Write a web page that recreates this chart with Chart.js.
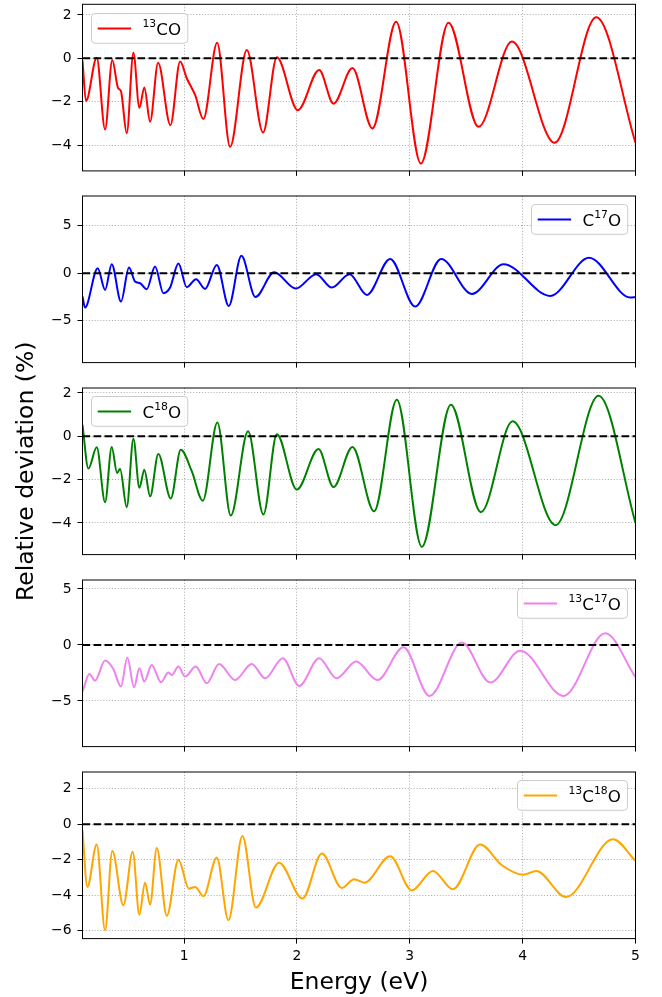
<!DOCTYPE html>
<html>
<head>
<meta charset="utf-8">
<script src="https://cdn.jsdelivr.net/npm/chart.js@4.4.0/dist/chart.umd.min.js"></script>
<style>
  html, body { margin: 0; padding: 0; background: #fff; }
  #fig { position: relative; width: 662px; height: 997px; }
  #fig canvas { position: absolute; left: 0; top: 0; }
</style>
</head>
<body>
<div id="fig"></div>
<script>
// ---- data ----
const xTicks = [1, 2, 3, 4, 5];
const xRange = [0.1, 5];

// 13CO
const co13Energy = [0.10, 0.131, 0.226, 0.300, 0.364, 0.415, 0.44, 0.492, 0.551, 0.604, 0.648, 0.699, 0.770, 0.879, 0.965, 1.024, 1.098, 1.171, 1.293, 1.408, 1.556, 1.700, 1.822, 2.008, 2.197, 2.324, 2.492, 2.669, 2.879, 3.098, 3.343, 3.609, 3.905, 4.283, 4.652, 5.0];
const co13Dev = [-0.1, -1.97, 0.03, -3.28, -0.08, -1.37, -1.5, -3.46, 0.26, -2.28, -1.34, -2.92, -0.2, -3.08, -0.15, -0.92, -1.69, -2.8, 0.72, -4.08, 0.38, -3.42, 0.05, -2.39, -0.54, -2.09, -0.45, -3.23, 1.69, -4.85, 1.64, -3.16, 0.77, -3.89, 1.89, -3.89];

// C17O
const c17oEnergy = [0.10, 0.122, 0.235, 0.300, 0.359, 0.441, 0.512, 0.566, 0.61, 0.669, 0.743, 0.817, 0.876, 0.950, 1.024, 1.106, 1.186, 1.290, 1.396, 1.508, 1.632, 1.798, 1.990, 2.170, 2.309, 2.466, 2.620, 2.826, 3.048, 3.278, 3.550, 3.831, 4.245, 4.588, 4.954, 5.0];
const c17oDev = [-2.45, -3.6, 0.52, -1.75, 0.94, -2.98, 0.59, -0.88, -1.05, -1.68, 0.7, -2.1, -1.51, 1.01, -1.47, -0.63, -1.65, 0.87, -3.43, 1.82, -2.49, 0.1, -1.61, -0.1, -1.51, -0.1, -2.28, 1.5, -3.5, 1.5, -2.17, 0.94, -2.38, 1.61, -2.55, -2.52];

// C18O
const c18oEnergy = [0.10, 0.152, 0.226, 0.300, 0.359, 0.406, 0.433, 0.492, 0.551, 0.604, 0.648, 0.699, 0.772, 0.882, 0.971, 1.068, 1.166, 1.295, 1.414, 1.567, 1.703, 1.822, 1.999, 2.191, 2.324, 2.492, 2.684, 2.885, 3.107, 3.364, 3.630, 3.911, 4.292, 4.673, 5.0];
const c18oDev = [0.53, -1.49, -0.51, -3.04, -0.49, -1.69, -1.51, -3.27, -0.11, -2.38, -1.54, -2.77, -0.82, -2.87, -0.62, -1.61, -2.97, 0.64, -3.66, 0.23, -3.61, 0.1, -2.46, -0.59, -2.34, -0.49, -3.46, 1.69, -5.1, 1.46, -3.5, 0.69, -4.1, 1.87, -4.0];

// 13C17O
const c13o17Energy = [0.10, 0.161, 0.211, 0.300, 0.373, 0.441, 0.497, 0.557, 0.604, 0.648, 0.713, 0.796, 0.861, 0.891, 0.950, 1.009, 1.104, 1.201, 1.310, 1.452, 1.600, 1.718, 1.875, 2.020, 2.197, 2.351, 2.525, 2.714, 2.944, 3.175, 3.462, 3.713, 3.979, 4.363, 4.732, 5.0];
const c13o17Dev = [-4.17, -2.59, -3.19, -1.4, -2.14, -3.72, -1.13, -3.78, -2.08, -3.27, -1.79, -3.33, -2.47, -2.68, -1.93, -2.83, -1.93, -3.42, -1.7, -3.13, -1.7, -2.98, -1.19, -3.66, -1.19, -2.98, -1.49, -3.13, -0.21, -4.55, 0.21, -3.36, -0.51, -4.55, 1.04, -2.89];

// 13C18O
const c13o18Energy = [0.10, 0.143, 0.226, 0.300, 0.364, 0.462, 0.545, 0.604, 0.654, 0.699, 0.758, 0.847, 0.950, 1.044, 1.098, 1.171, 1.290, 1.393, 1.517, 1.636, 1.842, 2.049, 2.221, 2.398, 2.507, 2.598, 2.826, 3.018, 3.205, 3.382, 3.624, 3.816, 4.003, 4.121, 4.384, 4.801, 5.0];
const c13o18Dev = [-0.34, -3.54, -1.15, -5.99, -1.51, -4.58, -1.56, -5.11, -3.3, -4.54, -1.34, -5.18, -2.0, -3.64, -3.54, -4.07, -1.88, -5.42, -0.66, -4.71, -2.17, -4.2, -1.66, -3.6, -3.11, -3.3, -1.81, -3.73, -2.64, -3.67, -1.15, -2.32, -2.85, -2.64, -4.11, -0.85, -2.07];

const ticksTwo = [-4, -2, 0, 2];
const ticksFive = [-5, 0, 5];
const ticksLast = [-6, -4, -2, 0, 2];

const panels = [
  { label: '^13CO',    color: 'red',    energy: co13Energy,   dev: co13Dev,   yRange: [-5.19, 2.49], yTicks: ticksTwo,  side: 'left' },
  { label: 'C^17O',    color: 'blue',   energy: c17oEnergy,   dev: c17oDev,   yRange: [-9.38, 8.1],  yTicks: ticksFive, side: 'right' },
  { label: 'C^18O',    color: 'green',  energy: c18oEnergy,   dev: c18oDev,   yRange: [-5.46, 2.23], yTicks: ticksTwo,  side: 'left' },
  { label: '^13C^17O', color: 'violet', energy: c13o17Energy, dev: c13o17Dev, yRange: [-9.08, 5.8],  yTicks: ticksFive, side: 'right' },
  { label: '^13C^18O', color: 'orange', energy: c13o18Energy, dev: c13o18Dev, yRange: [-6.46, 2.95], yTicks: ticksLast, side: 'right' },
];

// ---- layout ----
const FIG_W = 662, FIG_H = 997;
const AX_LEFT = 82.5, AX_RIGHT = 635.5;
const AX_TOPS = [4.3, 196, 388, 580, 772];
const AX_H = 166.6;
const FONT = '"DejaVu Sans", "Liberation Sans", sans-serif';
const LEG_SIZE = 16.7, SUP_SIZE = 10.8;

const minus = v => String(v).replace('-', '\u2212');

// spines on all four sides
const framePlugin = {
  id: 'frame',
  afterDatasetsDraw(chart) {
    const { ctx, chartArea: a } = chart;
    ctx.save();
    ctx.strokeStyle = '#000';
    ctx.lineWidth = 1;
    ctx.strokeRect(a.left, a.top, a.right - a.left, a.bottom - a.top);
    ctx.restore();
  }
};

// matplotlib-like legend box inside the axes, with superscripts
const isoLegend = {
  id: 'isoLegend',
  afterDraw(chart, args, opts) {
    const { ctx, chartArea: a } = chart;
    const parts = opts.text.split(/(\^\d+)/).filter(s => s).map(s =>
      s[0] === '^' ? { t: s.slice(1), sup: true } : { t: s, sup: false });
    ctx.save();
    let textW = 0;
    parts.forEach(p => {
      ctx.font = (p.sup ? SUP_SIZE : LEG_SIZE) + 'px ' + FONT;
      p.w = ctx.measureText(p.t).width;
      textW += p.w;
    });
    const boxW = 51 + textW + 6.7, boxH = 29.8;
    const x0 = Math.round(opts.side === 'left' ? a.left + 8.3 : a.right - 8.3 - boxW) + 0.5;
    const y0 = Math.round(a.top + 8.3) + 0.5;
    ctx.beginPath();
    ctx.roundRect(x0, y0, boxW, boxH, 3.5);
    ctx.fillStyle = 'rgba(255,255,255,0.8)';
    ctx.fill();
    ctx.strokeStyle = '#cccccc';
    ctx.lineWidth = 1;
    ctx.stroke();

    const cy = y0 + boxH / 2;
    ctx.beginPath();
    ctx.moveTo(x0 + 6.2, cy);
    ctx.lineTo(x0 + 39.6, cy);
    ctx.strokeStyle = opts.color;
    ctx.lineWidth = 2;
    ctx.stroke();

    let tx = x0 + 51;
    const base = cy + 6.1;
    ctx.fillStyle = '#000';
    ctx.textBaseline = 'alphabetic';
    ctx.textAlign = 'left';
    parts.forEach(p => {
      ctx.font = (p.sup ? SUP_SIZE : LEG_SIZE) + 'px ' + FONT;
      ctx.fillText(p.t, tx, p.sup ? base - 7.3 : base);
      tx += p.w;
    });
    ctx.restore();
  }
};

const fig = document.getElementById('fig');

panels.forEach((p, i) => {
  const canvas = document.createElement('canvas');
  canvas.width = FIG_W;
  canvas.height = FIG_H;
  fig.appendChild(canvas);

  const top = AX_TOPS[i];
  const bottom = top + AX_H;
  const isLast = i === panels.length - 1;
  const xRoom = isLast ? FIG_H - bottom : 10;

  const gridOpts = {
    color: '#b0b0b0',
    lineWidth: 1,
    tickLength: 5,
    tickColor: '#000',
    tickWidth: 1,
    tickBorderDash: [],
  };
  const tickFont = { family: FONT, size: 13.9 };

  new Chart(canvas, {
    type: 'line',
    data: {
      datasets: [
        {
          // zero reference line
          data: [{ x: xRange[0], y: 0 }, { x: xRange[1], y: 0 }],
          borderColor: '#000',
          borderWidth: 2,
          borderDash: [7.7, 3.3],
          pointRadius: 0,
          order: 0,
        },
        {
          label: p.label,
          data: p.energy.map((e, k) => ({ x: e, y: p.dev[k] })),
          borderColor: p.color,
          borderWidth: 2,
          pointRadius: 0,
          cubicInterpolationMode: 'monotone',
          order: 1,
        },
      ],
    },
    options: {
      responsive: false,
      animation: false,
      events: [],
      layout: {
        padding: { left: 0, right: FIG_W - AX_RIGHT, top: top, bottom: FIG_H - bottom - xRoom },
      },
      scales: {
        x: {
          type: 'linear',
          min: xRange[0],
          max: xRange[1],
          afterBuildTicks: axis => { axis.ticks = xTicks.map(v => ({ value: v })); },
          afterFit: axis => { axis.height = xRoom; axis.paddingLeft = 0; axis.paddingRight = 0; },
          grid: gridOpts,
          border: { display: false, dash: [1.1, 1.8] },
          ticks: {
            display: isLast,
            padding: 4,
            color: '#000',
            font: tickFont,
            maxRotation: 0,
            callback: v => minus(v),
          },
          title: {
            display: isLast,
            text: 'Energy (eV)',
            color: '#000',
            font: { family: FONT, size: 23.5, lineHeight: 1.2 },
            padding: { top: 0, bottom: 0 },
          },
        },
        y: {
          min: p.yRange[0],
          max: p.yRange[1],
          afterBuildTicks: axis => { axis.ticks = p.yTicks.map(v => ({ value: v })); },
          afterFit: axis => { axis.width = AX_LEFT; axis.paddingTop = 0; axis.paddingBottom = 0; },
          grid: gridOpts,
          border: { display: false, dash: [1.1, 1.8] },
          ticks: {
            padding: 6,
            color: '#000',
            font: tickFont,
            callback: v => minus(v),
          },
          title: {
            display: i === 2,
            text: 'Relative deviation (%)',
            color: '#000',
            font: { family: FONT, size: 23.5, lineHeight: 1.2 },
            padding: { top: 13, bottom: 0 },
          },
        },
      },
      plugins: {
        legend: { display: false },
        tooltip: { enabled: false },
        isoLegend: { text: p.label, color: p.color, side: p.side },
      },
    },
    plugins: [framePlugin, isoLegend],
  });
});
</script>
</body>
</html>
